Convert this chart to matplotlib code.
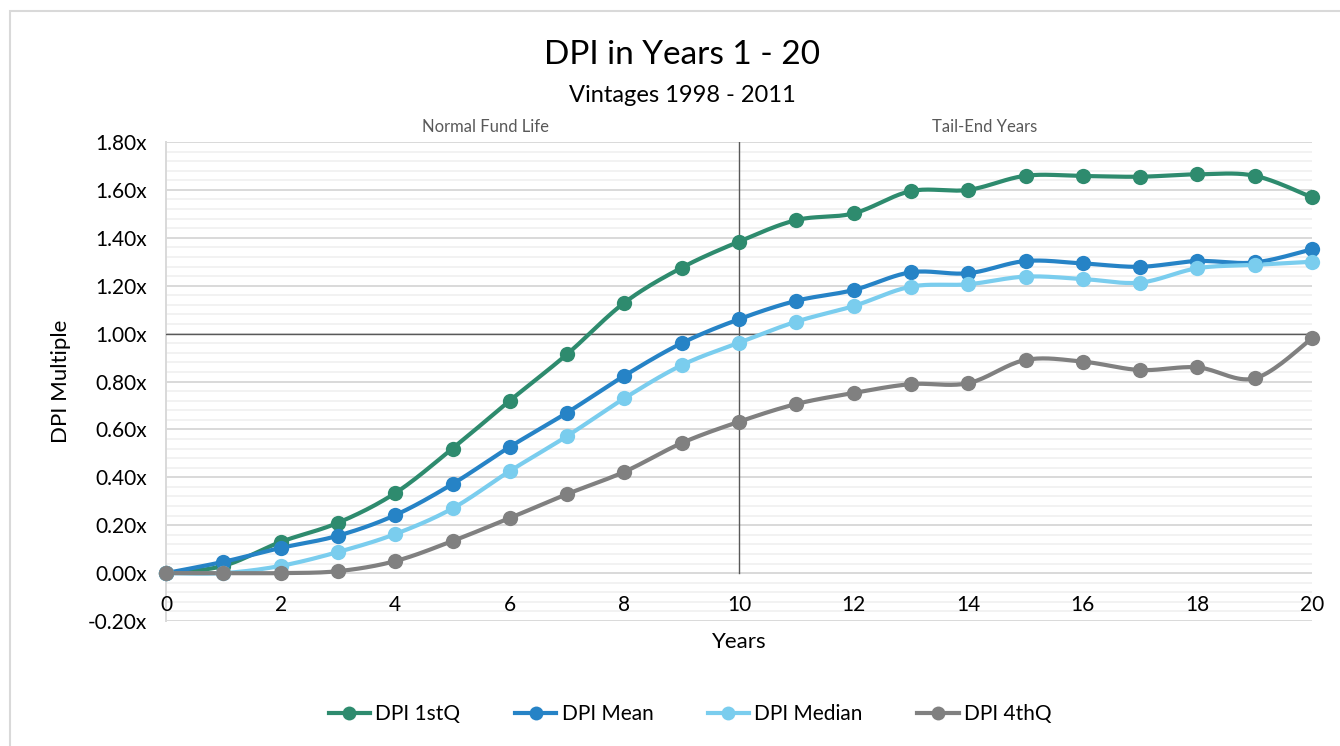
import numpy as np
import matplotlib
matplotlib.use("Agg")
import matplotlib.pyplot as plt
from matplotlib.lines import Line2D
from matplotlib.patches import Rectangle

years = list(range(0, 21))
dpi_1stq = [0.00, 0.03, 0.13, 0.21, 0.334, 0.52, 0.72, 0.914, 1.129, 1.275, 1.384,
            1.474, 1.502, 1.595, 1.600, 1.659, 1.658, 1.655, 1.665, 1.659, 1.569]
dpi_mean = [0.00, 0.047, 0.105, 0.156, 0.242, 0.372, 0.527, 0.670, 0.824, 0.960, 1.060,
            1.137, 1.182, 1.256, 1.252, 1.303, 1.293, 1.279, 1.303, 1.297, 1.352]
dpi_median = [0.00, 0.00, 0.03, 0.088, 0.163, 0.270, 0.426, 0.572, 0.730, 0.868, 0.962,
              1.050, 1.115, 1.196, 1.206, 1.238, 1.228, 1.213, 1.273, 1.287, 1.300]
dpi_4thq = [0.00, 0.00, 0.00, 0.008, 0.050, 0.134, 0.230, 0.330, 0.423, 0.543, 0.632,
            0.706, 0.752, 0.789, 0.793, 0.890, 0.883, 0.848, 0.859, 0.813, 0.980]
series_names = ["DPI 1stQ", "DPI Mean", "DPI Median", "DPI 4thQ"]
colors = ["#2E8B6E", "#2683C6", "#7ACDEE", "#808080"]
yticks = [-0.2, 0.0, 0.2, 0.4, 0.6, 0.8, 1.0, 1.2, 1.4, 1.6, 1.8]
xticks = list(range(0, 21, 2))

FONT = "Lato"
plt.rcParams["font.family"] = [FONT, "DejaVu Sans"]


def smooth(x, y, n=20):
    x = np.asarray(x, float)
    y = np.asarray(y, float)
    xs, ys = [], []
    for i in range(len(x) - 1):
        p0 = np.array([x[max(i - 1, 0)], y[max(i - 1, 0)]])
        p1 = np.array([x[i], y[i]])
        p2 = np.array([x[i + 1], y[i + 1]])
        p3 = np.array([x[min(i + 2, len(x) - 1)], y[min(i + 2, len(x) - 1)]])
        c1 = p1 + (p2 - p0) / 6.0
        c2 = p2 - (p3 - p1) / 6.0
        t = np.linspace(0, 1, n, endpoint=(i == len(x) - 2))[:, None]
        pts = ((1 - t) ** 3) * p1 + 3 * ((1 - t) ** 2) * t * c1 + 3 * (1 - t) * t ** 2 * c2 + t ** 3 * p2
        xs.append(pts[:, 0])
        ys.append(pts[:, 1])
    return np.concatenate(xs), np.concatenate(ys)


fig = plt.figure(figsize=(13.4, 7.46), dpi=100)
fig.patches.append(Rectangle((10 / 1340, -0.1), 2.0, (735 / 746) + 0.1, transform=fig.transFigure,
                             fill=False, edgecolor="#D9D9D9", linewidth=1.5, zorder=0))

ax = fig.add_axes([166 / 1340, 1 - 621 / 746, (1312 - 166) / 1340, (621 - 142) / 746])
ax.set_xlim(0, 20)
ax.set_ylim(-0.2, 1.8)

# gridlines
for v in np.arange(-0.2, 1.8001, 0.04):
    is_major = abs(v / 0.2 - round(v / 0.2)) < 1e-6
    ax.axhline(v, color="#D9D9D9" if is_major else "#F0F0F0", lw=1.4 if is_major else 1.2, zorder=0.5)
ax.axhline(1.0, color="#595959", lw=1.0, zorder=1)
ax.plot([10, 10], [0, 1.8], color="#595959", lw=1.0, zorder=1)

for ys, c in zip([dpi_1stq, dpi_mean, dpi_median, dpi_4thq], colors):
    sx, sy = smooth(years, ys)
    ax.plot(sx, sy, color=c, lw=3, zorder=3, solid_capstyle="round", clip_on=False)
    ax.plot(years, ys, "o", color=c, ms=11, zorder=4, markeredgewidth=0, clip_on=False)

for s in ["top", "right", "bottom"]:
    ax.spines[s].set_visible(False)
ax.spines["left"].set_color("#D9D9D9")
ax.spines["left"].set_linewidth(1.4)
ax.spines["left"].set_zorder(0.6)

ax.set_yticks(yticks)
ax.set_yticklabels([f"{v:.2f}x" for v in yticks], fontsize=15)
ax.tick_params(axis="y", length=0, pad=14)
ax.set_xticks([])
for xv in xticks:
    ax.text(xv, -0.135, str(xv), ha="center", va="center", fontsize=15, color="#000000")

ax.set_ylabel("DPI Multiple", fontsize=16, labelpad=12)
fig.text(739 / 1340, 1 - 642 / 746, "Years", ha="center", va="center", fontsize=16)

fig.text(682 / 1340, 1 - 55 / 746, "DPI in Years 1 - 20", ha="center", va="center", fontsize=24)
fig.text(682 / 1340, 1 - 95 / 746, "Vintages 1998 - 2011", ha="center", va="center", fontsize=17)
fig.text(485 / 1340, 1 - 127 / 746, "Normal Fund Life", ha="center", va="center", fontsize=12, color="#595959")
fig.text(985 / 1340, 1 - 127 / 746, "Tail-End Years", ha="center", va="center", fontsize=12, color="#595959")

handles = [Line2D([0], [0], color=c, lw=3, marker="o", ms=10, markeredgewidth=0) for c in colors]
fig.legend(handles, series_names, loc="center", bbox_to_anchor=(690 / 1340, 1 - 714 / 746), ncol=4,
           frameon=False, fontsize=15, handlelength=2.0, columnspacing=2.6, handletextpad=0.25)

fig.savefig("out.png", dpi=100)
